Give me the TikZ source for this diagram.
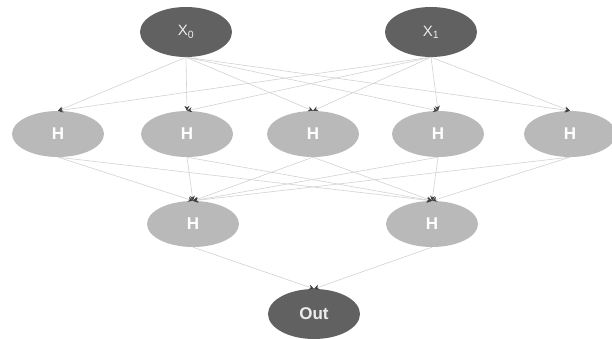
\documentclass[tikz,border=0pt]{standalone}
\usepackage{tikz}
\usepackage{xcolor}
\usepackage{fontspec}
\setmainfont{Liberation Sans}
\usetikzlibrary{shapes.geometric, arrows.meta, positioning}

\definecolor{darknode}{HTML}{616161}
\definecolor{lightnode}{HTML}{B9B9B9}
\definecolor{edgegray}{HTML}{D2D2D2}

\begin{document}
\begin{tikzpicture}[
    x=1pt, y=-1pt,
    inp/.style={draw=none, ellipse, fill=darknode, text=white!85!gray, minimum width=92pt, minimum height=50pt, inner sep=0pt, font=\fontsize{15}{17}\selectfont},
    hid/.style={draw=none, ellipse, fill=lightnode, text=white, minimum width=92pt, minimum height=46pt, inner sep=0pt, font=\fontsize{17}{19}\selectfont\bfseries},
    outp/.style={inp, font=\fontsize{17}{19}\selectfont\bfseries},
    conn/.style={draw=edgegray, line width=0.6pt, -{Stealth[length=5pt, width=5pt, color=black!75]}}
]
    \useasboundingbox (0,0) rectangle (612,339);

    % Inputs
    \node[inp] (x0) at (186,32) {X\textsubscript{0}};
    \node[inp] (x1) at (431,32) {X\textsubscript{1}};

    % First hidden layer
    \node[hid] (h1) at (58,134) {H};
    \node[hid] (h2) at (187,134) {H};
    \node[hid] (h3) at (313,134) {H};
    \node[hid] (h4) at (438,134) {H};
    \node[hid] (h5) at (570,134) {H};

    % Second hidden layer
    \node[hid] (g1) at (193,224) {H};
    \node[hid] (g2) at (432,224) {H};

    % Output
    \node[outp] (out) at (314,314) {Out};

    % Connections
    \foreach \i in {x0,x1}
        \foreach \j in {h1,h2,h3,h4,h5}
            \draw[conn] (\i.south) -- (\j.north);
    \foreach \i in {h1,h2,h3,h4,h5}
        \foreach \j in {g1,g2}
            \draw[conn] (\i.south) -- (\j.north);
    \foreach \i in {g1,g2}
        \draw[conn] (\i.south) -- (out.north);
\end{tikzpicture}
\end{document}
